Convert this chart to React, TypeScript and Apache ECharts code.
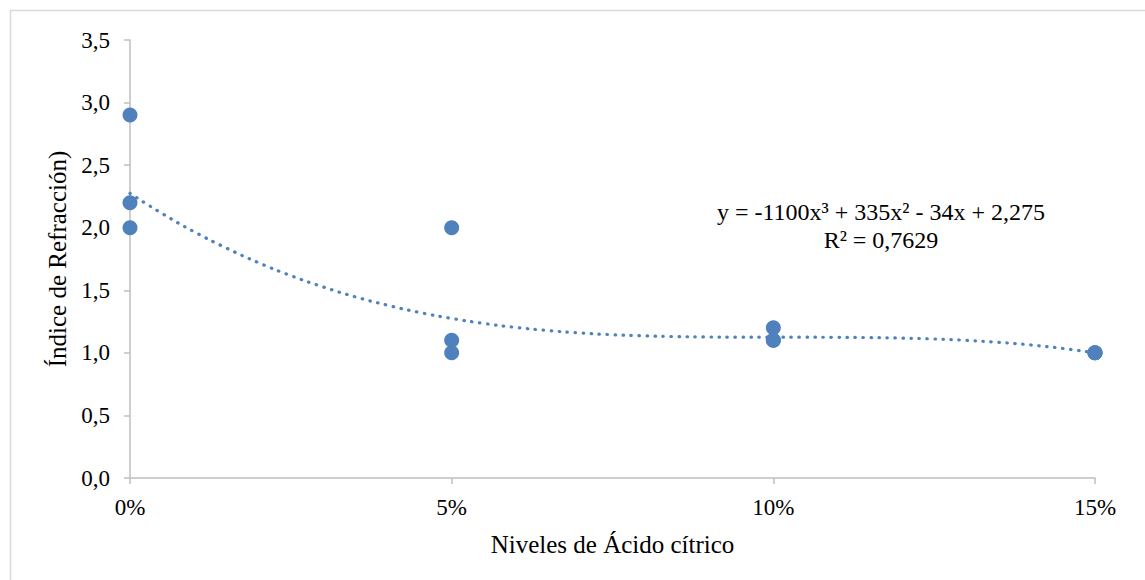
import React, { useEffect, useRef } from "react";
import * as echarts from "echarts";

const pointX = [0, 0, 0, 0.05, 0.05, 0.05, 0.1, 0.1, 0.1, 0.15, 0.15, 0.15];
const pointY = [2.9, 2.2, 2.0, 2.0, 1.1, 1.0, 1.2, 1.1, 1.1, 1.0, 1.0, 1.0];

const trendX = [0, 0.005, 0.01, 0.015, 0.02, 0.025, 0.03, 0.035, 0.04, 0.045, 0.05, 0.055, 0.06, 0.065, 0.07, 0.075, 0.08, 0.085, 0.09, 0.095, 0.1, 0.105, 0.11, 0.115, 0.12, 0.125, 0.13, 0.135, 0.14, 0.145, 0.15];
const trendY = [2.275, 2.113, 1.967, 1.837, 1.720, 1.617, 1.527, 1.448, 1.381, 1.323, 1.275, 1.235, 1.203, 1.178, 1.159, 1.145, 1.136, 1.130, 1.127, 1.125, 1.125, 1.125, 1.124, 1.122, 1.118, 1.111, 1.100, 1.084, 1.063, 1.035, 1.0];

const xTicks = ["0%", "5%", "10%", "15%"];
const equationLines = ["y = -1100x³ + 335x² - 34x + 2,275", "R² = 0,7629"];

const FONT = "Liberation Serif";
const BLUE = "#4f81bd";
const FS = 23;
const FS_NAME = 25;

export default function App() {
  const ref = useRef<HTMLDivElement>(null);
  useEffect(() => {
    document.body.style.margin = "0";
    const chart = echarts.init(ref.current!, null, { renderer: "svg" });
    chart.setOption({
      animation: false,
      backgroundColor: "#ffffff",
      textStyle: { fontFamily: FONT },
      grid: { left: 130, right: 50, top: 40, bottom: 102 },
      graphic: [
        {
          type: "rect",
          shape: { x: 10.5, y: 10.5, width: 1200, height: 700 },
          style: { fill: "none", stroke: "#d9d9d9", lineWidth: 1.5 },
          silent: true,
          z: -1,
        },
        {
          type: "text",
          x: 881,
          y: 198,
          style: {
            text: equationLines.join("\n"),
            fontFamily: FONT,
            fontSize: 24,
            fill: "#000",
            textAlign: "center",
            lineHeight: 28,
          },
        },
      ],
      xAxis: {
        type: "value",
        min: 0,
        max: 0.15,
        interval: 0.05,
        name: "Niveles de Ácido cítrico",
        nameLocation: "middle",
        nameGap: 54,
        nameTextStyle: { fontSize: FS_NAME, color: "#000", fontFamily: FONT },
        axisLine: { show: true, lineStyle: { color: "#bfbfbf", width: 1.5 } },
        axisTick: { show: true, length: 6, lineStyle: { color: "#bfbfbf", width: 1.5 } },
        axisLabel: {
          fontSize: FS,
          color: "#000",
          margin: 18,
          fontFamily: FONT,
          formatter: (v: number) => xTicks[Math.round(v / 0.05)] ?? "",
        },
        splitLine: { show: false },
      },
      yAxis: {
        type: "value",
        min: 0,
        max: 3.5,
        interval: 0.5,
        name: "Índice de Refracción)",
        nameLocation: "middle",
        nameGap: 55,
        nameRotate: 90,
        nameTextStyle: { fontSize: FS_NAME, color: "#000", fontFamily: FONT },
        axisLine: { show: true, lineStyle: { color: "#bfbfbf", width: 1.5 } },
        axisTick: { show: true, length: 6, lineStyle: { color: "#bfbfbf", width: 1.5 } },
        axisLabel: {
          fontSize: FS,
          color: "#000",
          margin: 20,
          fontFamily: FONT,
          formatter: (v: number) => v.toFixed(1).replace(".", ","),
        },
        splitLine: { show: false },
      },
      series: [
        {
          type: "line",
          data: trendX.map((x, i) => [x, trendY[i]]),
          showSymbol: false,
          smooth: true,
          lineStyle: { color: BLUE, width: 3.2, type: [0.5, 7.5], cap: "round" },
          z: 2,
        },
        {
          type: "scatter",
          data: pointX.map((x, i) => [x, pointY[i]]),
          symbolSize: 15,
          itemStyle: { color: BLUE, opacity: 1 },
          z: 3,
        },
      ],
    });
    return () => chart.dispose();
  }, []);
  return <div ref={ref} style={{ width: 1145, height: 580 }} />;
}
